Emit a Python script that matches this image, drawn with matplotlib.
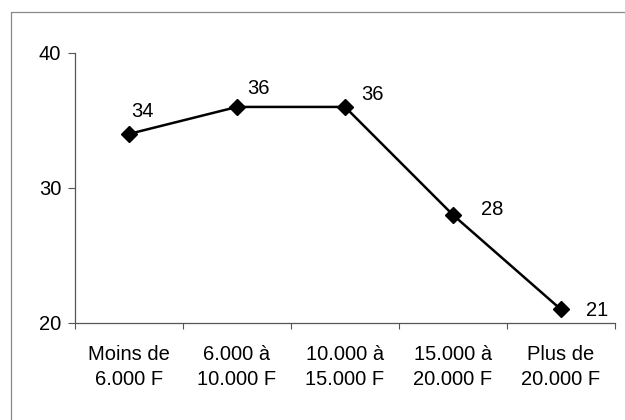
import matplotlib
matplotlib.use("Agg")
import matplotlib.pyplot as plt
from matplotlib.lines import Line2D

plt.rcParams['font.family'] = ['Liberation Sans', 'DejaVu Sans']

categories = ["Moins de\n6.000 F", "6.000 à\n10.000 F", "10.000 à\n15.000 F",
              "15.000 à\n20.000 F", "Plus de\n20.000 F"]
values = [34, 36, 36, 28, 21]
yticks = [20, 30, 40]

# label offsets in pixels, placed by hand for each point
label_offsets = [(13, 22), (21, 18), (27, 12), (39, 5), (36, -1)]

fs = 14.5

fig = plt.figure(figsize=(6.25, 4.2), dpi=100)
ax = fig.add_axes([0.12, 0.231, 0.864, 0.643])

x = [i + 0.5 for i in range(len(values))]
ax.plot(x, values, color='black', linewidth=1.8, marker='D', markersize=8.5,
        markerfacecolor='black', markeredgecolor='black')

for xi, v, off in zip(x, values, label_offsets):
    ax.annotate(str(v), (xi, v), xytext=off, textcoords='offset pixels',
                ha='center', va='center', fontsize=fs)

ax.set_xlim(0, len(values))
ax.set_ylim(20, 40)
ax.set_yticks(yticks)
ax.set_xticks(range(len(values) + 1))
ax.set_xticklabels([])
ax.set_xticks(x, minor=True)
ax.set_xticklabels(categories, minor=True, fontsize=fs, linespacing=1.4)
ax.tick_params(axis='x', which='minor', length=0, pad=16)
ax.tick_params(axis='x', which='major', length=4, width=0.8, color='#555555')
ax.tick_params(axis='y', length=5, width=0.8, color='#555555', labelsize=fs, pad=5)

for side in ('top', 'right'):
    ax.spines[side].set_visible(False)
for side in ('left', 'bottom'):
    ax.spines[side].set_color('#555555')
    ax.spines[side].set_linewidth(0.9)

# chart area border
x0 = 11 / 625
y0 = 1 - 12 / 420
fig.add_artist(Line2D([x0, x0, 1.0], [0.0, y0, y0], transform=fig.transFigure,
                      color='#888888', linewidth=0.9))

fig.savefig('out.png', dpi=100)
